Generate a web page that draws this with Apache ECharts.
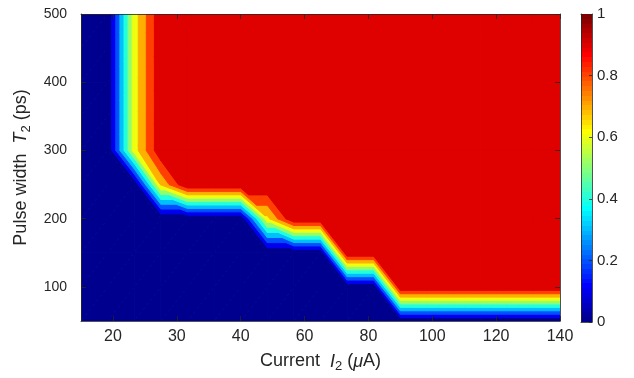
<!DOCTYPE html>
<html><head><meta charset="utf-8">
<script src="https://cdn.jsdelivr.net/npm/echarts@6/dist/echarts.min.js"></script>
<style>html,body{margin:0;padding:0;background:#fff}#c{width:634px;height:378px}</style>
</head><body><div id="c"></div>
<script>
// ---- data ----
const colIndex = [0,1,2,3,4,5,6,7,8,9,10,11,12,13,14,15,16,17,18];
const xTickPos = [1.2,3.6,6.0,8.4,10.8,13.2,15.6,18.0];
const xTickLabels = ['20','30','40','60','80','100','120','140'];
const pulseWidth = [50,100,150,200,250,300,350,400,450,500];
const yTickValues = [100,200,300,400,500];
const levels = [0,0.1,0.2,0.3,0.4,0.5,0.6,0.7,0.8,0.9,1];
const cbTicks = [0,0.2,0.4,0.6,0.8,1];
const cbRange = [0,1];
// switching probability, one row per pulse width, one value per current column
const z050 = [0,0,0,0,0,0,0,0,0,0,0,0,0,0,0,0,0,0,0];
const z100 = [0,0,0,0,0,0,0,0,0,0,0,0,1,1,1,1,1,1,1];
const z150 = [0,0,0,0,0,0,0,0,0,0,1,1,1,1,1,1,1,1,1];
const z200 = [0,0,0,0,0,0,0,0.67,1,1,1,1,1,1,1,1,1,1,1];
const z250 = [0,0,0,0.71,1,1,1,1,1,1,1,1,1,1,1,1,1,1,1];
const z300 = [0,0,0.65,0.98,1,1,1,1,1,1,1,1,1,1,1,1,1,1,1];
const z350 = [0,0,0.65,0.98,1,1,1,1,1,1,1,1,1,1,1,1,1,1,1];
const z400 = [0,0,0.65,0.98,1,1,1,1,1,1,1,1,1,1,1,1,1,1,1];
const z450 = [0,0,0.65,0.98,1,1,1,1,1,1,1,1,1,1,1,1,1,1,1];
const z500 = [0,0,0.65,0.98,1,1,1,1,1,1,1,1,1,1,1,1,1,1,1];
const Z = [z050,z100,z150,z200,z250,z300,z350,z400,z450,z500];

// ---- style ----
const bandColors = ['#00008F','#0000EF','#0050FF','#00BFFF','#20FFDF','#8FFF70','#EFFF10','#FFAF00','#FF4000','#DF0000'];
function jet(m){
  const n = Math.ceil(m/4), u=[];
  for(let i=1;i<=n;i++)u.push(i/n);
  for(let i=1;i<n;i++)u.push(1);
  for(let i=n;i>=1;i--)u.push(i/n);
  const g0 = Math.ceil(n/2) - (m%4===1?1:0);
  const cm=[]; for(let i=0;i<m;i++)cm.push([0,0,0]);
  for(let j=0;j<u.length;j++){
    const g=g0+j+1, r=g+n, b=g-n;
    if(r>=1&&r<=m)cm[r-1][0]=u[j];
    if(g>=1&&g<=m)cm[g-1][1]=u[j];
    if(b>=1&&b<=m)cm[b-1][2]=u[j];
  }
  return cm.map(c=>'rgb('+c.map(v=>Math.round(v*255)).join(',')+')');
}
const jet64 = jet(64);
const FONT = '"Liberation Sans", Arial, Helvetica, sans-serif';
const AX = '#262626';

function clip(poly, fn){
  const out=[];
  for(let i=0;i<poly.length;i++){
    const a=poly[i], b=poly[(i+1)%poly.length];
    const fa=fn(a), fb=fn(b);
    if(fa>=0) out.push(a);
    if((fa>=0)!==(fb>=0)){
      const t=fa/(fa-fb);
      out.push([a[0]+t*(b[0]-a[0]), a[1]+t*(b[1]-a[1]), a[2]+t*(b[2]-a[2])]);
    }
  }
  return out;
}

const cells=[];
for(let j=0;j<pulseWidth.length-1;j++) for(let i=0;i<colIndex.length-1;i++) cells.push([i,j]);

function cellTris(i,j){
  const p00=[colIndex[i],pulseWidth[j],Z[j][i]], p10=[colIndex[i+1],pulseWidth[j],Z[j][i+1]];
  const p01=[colIndex[i],pulseWidth[j+1],Z[j+1][i]], p11=[colIndex[i+1],pulseWidth[j+1],Z[j+1][i+1]];
  if(Math.abs(p00[2]-p11[2]) <= Math.abs(p10[2]-p01[2])) return [[p00,p10,p11],[p00,p11,p01]];
  return [[p00,p10,p01],[p10,p11,p01]];
}

// each band series paints the region where value >= its lower level
function makeBandRenderer(b){
  return function(params, api){
    const i=api.value(0), j=api.value(1);
    const children=[];
    const lo=levels[b];
    for(const tri of cellTris(i,j)){
      const poly = b===0 ? tri : clip(tri,p=>p[2]-lo);
      if(poly.length<3) continue;
      const pts=poly.map(p=>api.coord([p[0],p[1]]));
      children.push({type:'polygon',shape:{points:pts},style:{fill:bandColors[b],stroke:bandColors[b],lineWidth:1,lineJoin:'round'}});
    }
    return {type:'group',children};
  };
}

function renderColorbar(params, api){
  const p0=api.coord([0,cbRange[0]]), p1=api.coord([1,cbRange[1]]);
  const stops=[];
  const m=jet64.length;
  for(let k=0;k<m;k++){stops.push({offset:k/m,color:jet64[k]});stops.push({offset:(k+1)/m,color:jet64[k]});}
  return {type:'rect',shape:{x:p0[0],y:p1[1],width:p1[0]-p0[0],height:p0[1]-p1[1]},
    style:{fill:new echarts.graphic.LinearGradient(0,1,0,0,stops)}};
}

const chart=echarts.init(document.getElementById('c'),null,{renderer:'canvas'});
const lineS={show:true,onZero:false,lineStyle:{color:AX,width:0.8}};
const tickS=(vals,len)=>({show:true,inside:true,length:len,customValues:vals,lineStyle:{color:AX,width:0.8}});
const labS={color:AX,fontFamily:FONT};
const richT={
  a:{fontSize:18,fontFamily:FONT,color:AX,lineHeight:22},
  i:{fontSize:18,fontFamily:FONT,color:AX,fontStyle:'italic',lineHeight:22},
  s:{fontSize:13,fontFamily:FONT,color:AX,padding:[10,0,0,0]}
};
const bandSeries = bandColors.map((c,b)=>({
  type:'custom',xAxisIndex:0,yAxisIndex:0,renderItem:makeBandRenderer(b),data:cells,silent:true,z:2+b,
  clip:true,encode:{x:[],y:[]}
}));
chart.setOption({
  animation:false,
  backgroundColor:'#fff',
  grid:[{left:81,top:14,width:479,height:308},{left:581,top:14,width:11,height:308}],
  xAxis:[
    {type:'value',gridIndex:0,min:colIndex[0],max:colIndex[colIndex.length-1],position:'bottom',
     axisLine:lineS,axisTick:tickS(xTickPos,5),splitLine:{show:false},z:20,
     axisLabel:Object.assign({},labS,{fontSize:16,margin:8,customValues:xTickPos,formatter:v=>{let b=0;for(let k=1;k<xTickPos.length;k++)if(Math.abs(xTickPos[k]-v)<Math.abs(xTickPos[b]-v))b=k;return xTickLabels[b];}}),
     name:'{a|Current  }{i|I}{s|2}{a| (}{i|\u03bc}{a|A)}',nameLocation:'middle',nameGap:29,
     nameTextStyle:{rich:richT}},
    {type:'value',gridIndex:0,min:colIndex[0],max:colIndex[colIndex.length-1],position:'top',z:20,
     axisLine:lineS,axisTick:tickS(xTickPos,5),axisLabel:{show:false},splitLine:{show:false}},
    {type:'value',gridIndex:1,min:0,max:1,position:'bottom',axisLine:lineS,axisTick:{show:false},axisLabel:{show:false},splitLine:{show:false}},
    {type:'value',gridIndex:1,min:0,max:1,position:'top',axisLine:lineS,axisTick:{show:false},axisLabel:{show:false},splitLine:{show:false}}
  ],
  yAxis:[
    {type:'value',gridIndex:0,min:pulseWidth[0],max:pulseWidth[pulseWidth.length-1],position:'left',z:20,
     axisLine:lineS,axisTick:tickS(yTickValues,5),splitLine:{show:false},
     axisLabel:Object.assign({},labS,{fontSize:14,margin:14,customValues:yTickValues}),
     name:'{a|Pulse width  }{i|T}{s|2}{a| (ps)}',nameLocation:'middle',nameGap:40,
     nameTextStyle:{rich:richT}},
    {type:'value',gridIndex:0,min:pulseWidth[0],max:pulseWidth[pulseWidth.length-1],position:'right',z:20,
     axisLine:lineS,axisTick:tickS(yTickValues,5),axisLabel:{show:false},splitLine:{show:false}},
    {type:'value',gridIndex:1,min:cbRange[0],max:cbRange[1],position:'right',z:20,
     axisLine:lineS,axisTick:tickS(cbTicks,3),splitLine:{show:false},
     axisLabel:Object.assign({},labS,{fontSize:15,margin:5,customValues:cbTicks,formatter:v=>String(Math.round(v*10)/10)})},
    {type:'value',gridIndex:1,min:cbRange[0],max:cbRange[1],position:'left',z:20,
     axisLine:lineS,axisTick:{show:false},axisLabel:{show:false},splitLine:{show:false}}
  ],
  series:bandSeries.concat([
    {type:'custom',xAxisIndex:2,yAxisIndex:2,renderItem:renderColorbar,data:[[0,0]],silent:true,z:1,
     encode:{x:[],y:[]}}
  ])
});
</script></body></html>
